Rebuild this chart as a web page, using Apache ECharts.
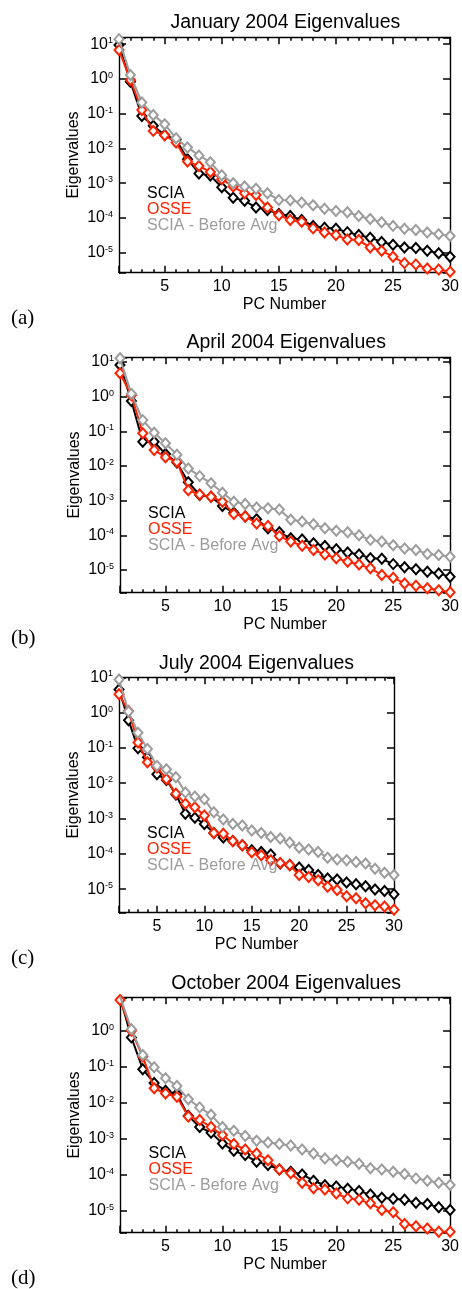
<!DOCTYPE html>
<html><head><meta charset="utf-8">
<script src="https://cdn.jsdelivr.net/npm/echarts@6/dist/echarts.min.js"></script>
<style>html,body{margin:0;padding:0;background:#fff}#c{width:462px;height:1289px}</style>
</head><body><div id="c"></div>
<script>
// ---------------- data ----------------
const pcNumbers = [1,2,3,4,5,6,7,8,9,10,11,12,13,14,15,16,17,18,19,20,21,22,23,24,25,26,27,28,29,30];
const seriesNames = ['SCIA', 'OSSE', 'SCIA - Before Avg'];
const panelTitles = ['January 2004 Eigenvalues', 'April 2004 Eigenvalues', 'July 2004 Eigenvalues', 'October 2004 Eigenvalues'];
const panelLabels = ['(a)', '(b)', '(c)', '(d)'];
const xAxisName = 'PC Number';
const yAxisName = 'Eigenvalues';

const janSCIA   = [9.5, 0.83, 0.086, 0.045, 0.0245, 0.018, 0.0049, 0.0019, 0.00165, 0.00076, 0.00038, 0.00031, 0.0002, 0.00017, 0.00013, 0.000114, 0.000087, 0.000059, 0.000052, 0.000049, 0.000039, 0.000032, 0.000027, 0.0000204, 0.000017, 0.000014, 0.0000136, 0.0000114, 0.0000096, 0.0000076];
const janOSSE   = [6.8, 0.93, 0.128, 0.032, 0.024, 0.0147, 0.0042, 0.0031, 0.0021, 0.0013, 0.0008, 0.00051, 0.00046, 0.0002, 0.00012, 0.000087, 0.000078, 0.00005, 0.000038, 0.000032, 0.000024, 0.000023, 0.000014, 0.0000114, 0.0000076, 0.000005, 0.0000046, 0.0000035, 0.0000033, 0.0000028];
const janBefore = [14, 1.3, 0.21, 0.092, 0.05, 0.0196, 0.0107, 0.0063, 0.004, 0.0017, 0.001, 0.0008, 0.00069, 0.00051, 0.00033, 0.00032, 0.00028, 0.00023, 0.000185, 0.000159, 0.000145, 0.000114, 0.000093, 0.000075, 0.000059, 0.000049, 0.000045, 0.000038, 0.000034, 0.00003];

const aprSCIA   = [8.2, 0.75, 0.05, 0.05, 0.022, 0.0125, 0.0034, 0.00146, 0.0013, 0.0007, 0.00045, 0.00035, 0.00029, 0.00016, 0.000122, 0.000082, 0.000076, 0.000059, 0.000049, 0.00004, 0.000032, 0.000028, 0.000022, 0.000021, 0.0000148, 0.000012, 0.0000105, 0.0000089, 0.000008, 0.0000064];
const aprOSSE   = [4.7, 1.1, 0.088, 0.029, 0.0178, 0.0133, 0.002, 0.0015, 0.0013, 0.00093, 0.00041, 0.00035, 0.00022, 0.000186, 0.000095, 0.000066, 0.00005, 0.000038, 0.000028, 0.000022, 0.0000174, 0.0000145, 0.0000112, 0.0000072, 0.000006, 0.0000041, 0.0000035, 0.000003, 0.0000026, 0.0000023];
const aprBefore = [12.7, 1.2, 0.21, 0.091, 0.045, 0.021, 0.0085, 0.0051, 0.0032, 0.0017, 0.00093, 0.0008, 0.00064, 0.0006, 0.00056, 0.00028, 0.00025, 0.00021, 0.00016, 0.000136, 0.000122, 0.0001, 0.000074, 0.000066, 0.000052, 0.000042, 0.000038, 0.000029, 0.000027, 0.000024];

const julSCIA   = [4.5, 0.61, 0.098, 0.054, 0.018, 0.0123, 0.0048, 0.00136, 0.00105, 0.0007, 0.00039, 0.00029, 0.00023, 0.000174, 0.000126, 0.000113, 0.000095, 0.000053, 0.000048, 0.000041, 0.000035, 0.000025, 0.00002, 0.0000187, 0.0000155, 0.0000138, 0.000012, 0.0000097, 0.0000089, 0.0000072];
const julOSSE   = [3.3, 1.11, 0.142, 0.039, 0.028, 0.0132, 0.005, 0.0026, 0.0021, 0.00122, 0.00039, 0.00037, 0.00023, 0.000174, 0.00011, 0.000091, 0.000066, 0.000055, 0.000048, 0.000025, 0.0000222, 0.0000178, 0.0000117, 0.0000094, 0.0000063, 0.0000055, 0.000004, 0.0000035, 0.0000032, 0.0000026];
const julBefore = [8.7, 1.07, 0.27, 0.093, 0.031, 0.025, 0.0147, 0.0055, 0.0042, 0.0035, 0.0015, 0.00094, 0.0007, 0.00063, 0.00046, 0.00039, 0.0003, 0.00027, 0.00021, 0.000149, 0.000132, 0.000113, 0.000078, 0.000069, 0.000066, 0.000059, 0.000053, 0.000038, 0.000029, 0.000025];

const octSCIA   = [8.5, 0.65, 0.085, 0.035, 0.0215, 0.0174, 0.0043, 0.0021, 0.00147, 0.00074, 0.00046, 0.00035, 0.00023, 0.000186, 0.00014, 0.00012, 0.000102, 0.000068, 0.000051, 0.000047, 0.000041, 0.000035, 0.000028, 0.000023, 0.0000215, 0.00002, 0.0000167, 0.0000154, 0.0000124, 0.0000105];
const octOSSE   = [7.1, 1.0, 0.19, 0.025, 0.018, 0.0146, 0.0041, 0.0033, 0.0021, 0.00126, 0.00071, 0.0005, 0.00039, 0.00025, 0.00014, 0.00011, 0.00006, 0.000042, 0.000039, 0.00003, 0.000022, 0.00002, 0.000016, 0.0000105, 0.000009, 0.0000043, 0.0000037, 0.0000032, 0.0000026, 0.0000026];
const octBefore = [9, 1.09, 0.21, 0.096, 0.048, 0.029, 0.0124, 0.0074, 0.0046, 0.0021, 0.00166, 0.00118, 0.00088, 0.00078, 0.00071, 0.00065, 0.0005, 0.00039, 0.00028, 0.00025, 0.00023, 0.0002, 0.000151, 0.00014, 0.00012, 0.000105, 0.000079, 0.000068, 0.00006, 0.000052];

const panelSeries = [
  [janSCIA, janOSSE, janBefore],
  [aprSCIA, aprOSSE, aprBefore],
  [julSCIA, julOSSE, julBefore],
  [octSCIA, octOSSE, octBefore]
];
// y-axis ranges
const yMins = [2.65e-6, 2.22e-6, 2.15e-6, 2.45e-6];
const yMaxs = [15.8, 13.6, 10, 8.43];

// ---------------- layout / style ----------------
const layout = [
  { left: 119, top: 37.3, width: 332.7, height: 235.4, titleY: 23, legendX: 142, legendY: 185.3, labelY: 318 },
  { left: 120, top: 357.3, width: 332.3, height: 235.4, titleY: 343, legendX: 143, legendY: 505.3, labelY: 638 },
  { left: 119, top: 677.3, width: 275, height: 235.4, titleY: 663.3, legendX: 142, legendY: 825.3, labelY: 958 },
  { left: 120, top: 997.3, width: 332.3, height: 235.4, titleY: 983.3, legendX: 143.5, legendY: 1145.3, labelY: 1278 }
];
const colors = ['#000000', '#ff2200', '#9c9c9c'];
const drawOrder = [0, 1, 2];
const FONT = '"Liberation Sans", Arial, Helvetica, sans-serif';
const SERIF = '"Liberation Serif", "Times New Roman", serif';
const axisLineStyle = { color: '#000', width: 1.4 };
const tickLineStyle = { color: '#000', width: 1.5 };

const grid = [], xAxis = [], yAxis = [], series = [], legend = [], graphic = [];

function yLabel(v) {
  const l = Math.log10(v);
  const e = Math.round(l);
  if (Math.abs(l - e) > 1e-6) return '';
  return '{b|10}{s|' + e + '}';
}

layout.forEach((L, i) => {
  grid.push({ left: L.left, top: L.top, width: L.width, height: L.height, containLabel: false });
  const baseX = { gridIndex: i, type: 'value', min: 1, max: 30, splitLine: { show: false } };
  // bottom: minor ticks every PC + labels
  xAxis.push(Object.assign({}, baseX, {
    position: 'bottom', interval: 1,
    axisLine: { show: true, onZero: false, lineStyle: axisLineStyle },
    axisTick: { show: true, inside: true, length: 3.5, lineStyle: tickLineStyle },
    axisLabel: { show: true, margin: 6, fontSize: 16, color: '#000', fontFamily: FONT,
      formatter: v => (v % 5 === 0 ? String(v) : '') },
    name: xAxisName, nameLocation: 'middle', nameGap: 24, nameMoveOverlap: false,
    nameTextStyle: { fontSize: 16, color: '#000', fontFamily: FONT }
  }));
  // bottom: major ticks
  xAxis.push(Object.assign({}, baseX, {
    position: 'bottom', splitNumber: 6,
    axisLine: { show: false, onZero: false },
    axisTick: { show: true, inside: true, length: 7, lineStyle: tickLineStyle },
    axisLabel: { show: false }
  }));
  // top: minor ticks
  xAxis.push(Object.assign({}, baseX, {
    position: 'top', interval: 1,
    axisLine: { show: true, onZero: false, lineStyle: axisLineStyle },
    axisTick: { show: true, inside: true, length: 3.5, lineStyle: tickLineStyle },
    axisLabel: { show: false }
  }));
  // top: major ticks
  xAxis.push(Object.assign({}, baseX, {
    position: 'top', splitNumber: 6,
    axisLine: { show: false, onZero: false },
    axisTick: { show: true, inside: true, length: 7, lineStyle: tickLineStyle },
    axisLabel: { show: false }
  }));
  const baseY = { gridIndex: i, type: 'log', logBase: 10, min: yMins[i], max: yMaxs[i], splitNumber: 7, splitLine: { show: false } };
  yAxis.push(Object.assign({}, baseY, {
    position: 'left',
    axisLine: { show: true, onZero: false, lineStyle: axisLineStyle },
    axisTick: { show: true, inside: true, length: 7, lineStyle: tickLineStyle },
    axisLabel: { show: true, margin: 6, formatter: yLabel,
      rich: {
        b: { fontSize: 16, color: '#000', fontFamily: FONT, lineHeight: 16 },
        s: { fontSize: 9, color: '#000', fontFamily: FONT, verticalAlign: 'top', lineHeight: 16 }
      } },
    name: yAxisName, nameLocation: 'middle', nameGap: 37, nameMoveOverlap: false,
    nameTextStyle: { fontSize: 16, color: '#000', fontFamily: FONT }
  }));
  yAxis.push(Object.assign({}, baseY, {
    position: 'right',
    axisLine: { show: true, onZero: false, lineStyle: axisLineStyle },
    axisTick: { show: true, inside: true, length: 7, lineStyle: tickLineStyle },
    axisLabel: { show: false }
  }));
  drawOrder.forEach((k, z) => {
    const vals = panelSeries[i][k];
    series.push({
      type: 'line', name: seriesNames[k],
      xAxisIndex: i * 4, yAxisIndex: i * 2,
      data: pcNumbers.map((x, j) => [x, vals[j]]),
      symbol: 'emptyDiamond', symbolSize: [9, 10],
      lineStyle: { width: 2, color: colors[k] },
      itemStyle: { color: colors[k], borderWidth: 1.6 },
      z: 2 + z, clip: true, animation: false
    });
  });
  legend.push({
    left: L.legendX, top: L.legendY, orient: 'vertical', padding: 0, itemGap: 0,
    itemWidth: 0, itemHeight: 16, selectedMode: false,
    textStyle: { fontSize: 16, fontFamily: FONT, lineHeight: 16 },
    data: seriesNames.map((n, k) => ({ name: n, icon: 'none', textStyle: { color: colors[k] } }))
  });
  graphic.push({
    type: 'text', x: L.left + L.width / 2, y: L.titleY,
    style: { text: panelTitles[i], font: '19.5px ' + FONT, fill: '#000', textAlign: 'center', textVerticalAlign: 'middle' }
  });
  graphic.push({
    type: 'text', x: 11, y: L.labelY,
    style: { text: panelLabels[i], font: '21px ' + SERIF, fill: '#000', textAlign: 'left', textVerticalAlign: 'middle' }
  });
});

const chart = echarts.init(document.getElementById('c'), null, { renderer: 'canvas' });
chart.setOption({
  animation: false,
  backgroundColor: '#fff',
  grid, xAxis, yAxis, series, legend, graphic
});
</script>
</body></html>
